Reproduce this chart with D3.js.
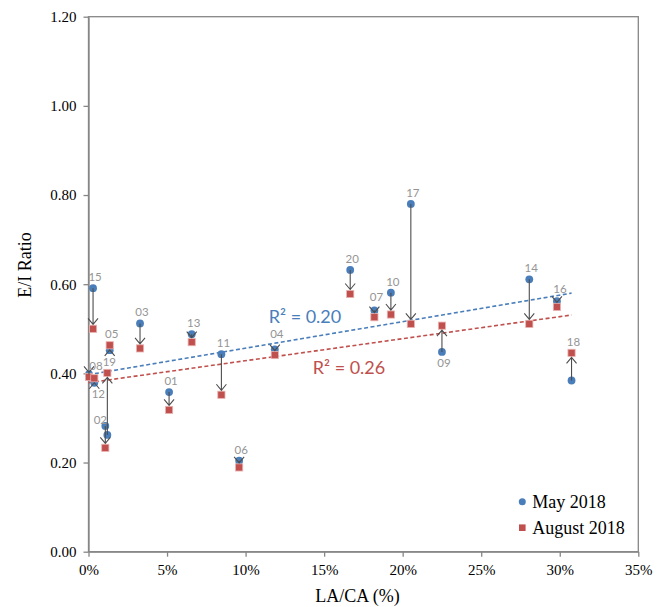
<!DOCTYPE html>
<html>
<head>
<meta charset="utf-8">
<script src="https://cdn.jsdelivr.net/npm/d3@7"></script>
<style>
  body { margin: 0; background: #fff; }
</style>
</head>
<body>
<div id="chart"></div>
<script>
// data
var sites = ['01','02','03','04','05','06','07','08','09','10','11','12','13','14','15','16','17','18','19','20'];
var laca  = [5.13, 1.07, 3.28, 11.86, 1.35, 9.59, 18.2, 0.03, 22.5, 19.25, 8.46, 0.37, 6.57, 28.06, 0.29, 29.82, 20.52, 30.75, 1.2, 16.66];
var eiMay = [0.358, 0.282, 0.512, 0.454, 0.452, 0.204, 0.541, 0.398, 0.448, 0.581, 0.443, 0.379, 0.488, 0.611, 0.591, 0.562, 0.780, 0.384, 0.262, 0.632];
var eiAug = [0.318, 0.233, 0.456, 0.441, 0.463, 0.189, 0.526, 0.392, 0.507, 0.532, 0.352, 0.389, 0.470, 0.511, 0.500, 0.549, 0.511, 0.446, 0.401, 0.578];
// where each site label sits: T = above the pair, B = below, L = left
var labelSide = ['T','L','T','T','T','T','T','T','B','T','T','B','T','T','T','T','T','T','T','T'];

var yTicks = [0, 0.2, 0.4, 0.6, 0.8, 1.0, 1.2];
var xTicks = [0, 5, 10, 15, 20, 25, 30, 35];
var seriesNames = ['May 2018', 'August 2018'];

// linear trend lines (intercept, slope per %) and R² as shown
var trendMay = [0.397, 0.00595];
var trendAug = [0.379, 0.00494];
var trendEnd = 30.75;
var r2Labels = ['R² = 0.20', 'R² = 0.26'];

var blue = '#4a7ebb', red = '#c0504d', axisCol = '#868686';

const W = 661, H = 607;
var margin = {top: 16.7, right: 22.7, bottom: 55.3, left: 88.5};
const width = W - margin.left - margin.right;
const height = H - margin.top - margin.bottom;

var svg = d3.select('#chart').append('svg')
            .attr('width', W)
            .attr('height', H)
            .append('g')
            .attr('transform', `translate(${margin.left},${margin.top})`);

var x = d3.scaleLinear().domain([0, 35]).range([0, width]);
var y = d3.scaleLinear().domain([0, 1.2]).range([height, 0]);

// axes
var yAxis = svg.append('g')
    .call(d3.axisLeft(y).tickValues(yTicks).tickFormat(d3.format('.2f')).tickSize(5).tickSizeOuter(0).tickPadding(7));
var xAxis = svg.append('g')
    .attr('transform', `translate(0,${height})`)
    .call(d3.axisBottom(x).tickValues(xTicks).tickFormat(d => d + '%').tickSize(5).tickSizeOuter(0));

[yAxis, xAxis].forEach(a => {
    a.selectAll('line, path').attr('stroke', axisCol).attr('stroke-width', 1.3);
    a.selectAll('text').style('font-family', '"Liberation Serif", "Times New Roman", serif')
        .style('font-size', '15px').attr('fill', '#000');
});
xAxis.selectAll('text').attr('y', 23).attr('dy', 0);

// plot border
svg.append('rect')
    .attr('width', width).attr('height', height)
    .attr('fill', 'none').attr('stroke', axisCol).attr('stroke-width', 1.3);

// axis titles
svg.append('text')
    .attr('x', width / 2 - 6).attr('y', height + 50)
    .attr('text-anchor', 'middle')
    .style('font-family', '"Liberation Serif", serif').style('font-size', '18px')
    .text('LA/CA (%)');
svg.append('text')
    .attr('transform', `translate(${31 - margin.left},${265 - margin.top}) rotate(-90)`)
    .attr('text-anchor', 'middle')
    .style('font-family', '"Liberation Serif", serif').style('font-size', '18px')
    .text('E/I Ratio');

var idx = d3.range(sites.length);

// trend lines
[[trendMay, blue], [trendAug, red]].forEach(t => {
    svg.append('line')
        .attr('x1', x(0)).attr('y1', y(t[0][0]))
        .attr('x2', x(trendEnd)).attr('y2', y(t[0][0] + t[0][1] * trendEnd))
        .attr('stroke', t[1]).attr('stroke-width', 1.6)
        .attr('stroke-dasharray', '4,2.5');
});

// May points
svg.selectAll('.may').data(idx).enter()
    .append('circle')
    .attr('class', 'may')
    .attr('cx', i => x(laca[i])).attr('cy', i => y(eiMay[i]))
    .attr('r', 3.9).attr('fill', blue);

// August points
svg.selectAll('.aug').data(idx).enter()
    .append('rect')
    .attr('class', 'aug')
    .attr('x', i => x(laca[i]) - 3.6).attr('y', i => y(eiAug[i]) - 3.6)
    .attr('width', 7.2).attr('height', 7.2)
    .attr('fill', red).attr('stroke', '#eab3b1').attr('stroke-width', 0.8);

// change arrows May -> August
var arrows = svg.selectAll('.arrow').data(idx).enter()
    .append('g').attr('class', 'arrow');
arrows.append('path')
    .attr('d', i => {
        var px = x(laca[i]), y0 = y(eiMay[i]), y1 = y(eiAug[i]);
        var s = y1 > y0 ? 1 : -1;
        var tip = y1 - s * 4.5;
        return `M${px},${y0}L${px},${tip}` +
               `M${px - 5},${tip - s * 6}L${px},${tip}L${px + 5},${tip - s * 6}`;
    })
    .attr('fill', 'none').attr('stroke', '#4d4d4d').attr('stroke-width', 1.1);

// site labels
var nudge = {'04': [0, -4], '08': [5, 3], '07': [0, -2], '16': [1, -1], '12': [2, 0]};
svg.selectAll('.lbl').data(idx).enter()
    .append('text')
    .attr('class', 'lbl')
    .attr('x', i => {
        var n = nudge[sites[i]] || [0, 0];
        var off = labelSide[i] === 'L' ? -5 : 2;
        return x(laca[i]) + off + n[0];
    })
    .attr('y', i => {
        var n = nudge[sites[i]] || [0, 0];
        var top = y(Math.max(eiMay[i], eiAug[i])), bot = y(Math.min(eiMay[i], eiAug[i]));
        var c;
        if (labelSide[i] === 'B') c = bot + 11;
        else if (labelSide[i] === 'L') c = top - 6;
        else c = top - 11;
        return c + 4 + n[1];
    })
    .attr('text-anchor', 'middle')
    .style('font-family', 'Lato, sans-serif').style('font-size', '11.5px')
    .attr('fill', '#959595')
    .text(i => sites[i]);

// R² labels
svg.append('text')
    .attr('x', 305 - margin.left).attr('y', 316.7 - margin.top + 6)
    .attr('text-anchor', 'middle')
    .style('font-family', 'Lato, sans-serif').style('font-size', '18px')
    .attr('fill', blue).text(r2Labels[0]);
svg.append('text')
    .attr('x', 349 - margin.left).attr('y', 368.3 - margin.top + 6)
    .attr('text-anchor', 'middle')
    .style('font-family', 'Lato, sans-serif').style('font-size', '18px')
    .attr('fill', red).text(r2Labels[1]);

// legend
var legend = svg.append('g')
    .attr('transform', `translate(${522.3 - margin.left},${501.7 - margin.top})`);
legend.append('circle').attr('cx', 0).attr('cy', 0).attr('r', 3.5).attr('fill', blue);
legend.append('rect').attr('x', -3.3).attr('y', 26 - 3.3).attr('width', 6.6).attr('height', 6.6).attr('fill', red);
legend.selectAll('.lt').data(seriesNames).enter()
    .append('text')
    .attr('x', 10).attr('y', (d, i) => i * 26 + 6)
    .style('font-family', '"Liberation Serif", serif').style('font-size', '18px')
    .text(d => d);
</script>
</body>
</html>
